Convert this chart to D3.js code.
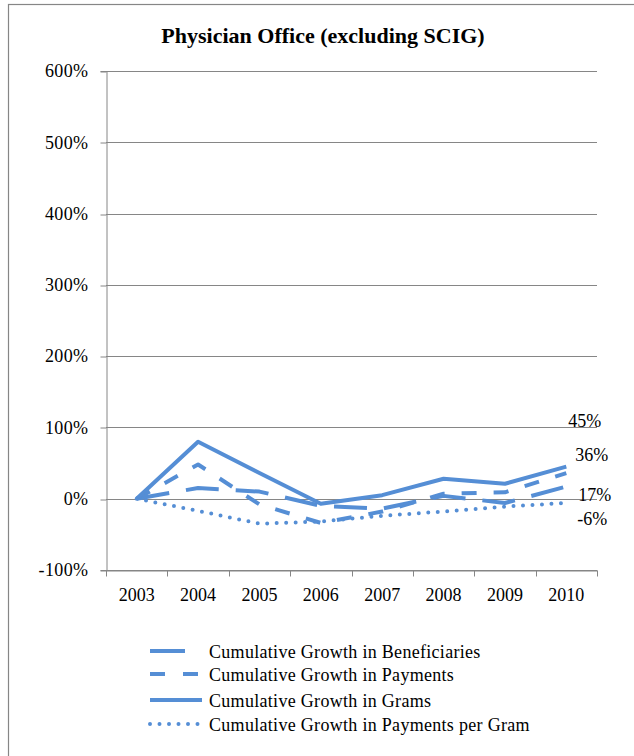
<!DOCTYPE html>
<html>
<head>
<meta charset="utf-8">
<script src="https://cdn.jsdelivr.net/npm/d3@7/dist/d3.min.js"></script>
<style>
  html, body { margin: 0; padding: 0; background: #fff; }
  svg { display: block; }
</style>
</head>
<body>
<svg id="chart" width="634" height="756"></svg>
<script>
// Years on the category axis
const years = ["2003", "2004", "2005", "2006", "2007", "2008", "2009", "2010"];

// Cumulative growth since 2003, in percent
const beneficiaries = [0, 15, 10, -10, -14, 4, -6, 17];
const payments      = [0, 48, -8, -34, -18, 7, 9, 36];
const grams         = [0, 80, 36, -7, 5, 28, 21, 45];
const paymentsPerGram = [0, -17, -35, -32, -24, -18, -11, -6];

// Value-axis ticks
const yTicks = [-100, 0, 100, 200, 300, 400, 500, 600];

const seriesNames = [
  "Cumulative Growth in Beneficiaries",
  "Cumulative Growth in Payments",
  "Cumulative Growth in Grams",
  "Cumulative Growth in Payments per Gram"
];

const FONT = "'Liberation Serif', 'Times New Roman', serif";
const blue = "#558ed5";
const gridGray = "#868686";

const series = [
  { name: seriesNames[0], values: beneficiaries, dash: "33,17", cap: "butt",
    label: { dx: 12, dy: 14 } },
  { name: seriesNames[1], values: payments, dash: "15,17", cap: "butt",
    label: { dx: 9, dy: -12 } },
  { name: seriesNames[2], values: grams, dash: null, cap: "butt",
    label: { dx: 2, dy: -40 } },
  { name: seriesNames[3], values: paymentsPerGram, dash: "0,9.5", cap: "round",
    label: { dx: 11, dy: 22 } }
];

const svg = d3.select("#chart");

// Chart frame
svg.append("rect")
  .attr("x", 8.5).attr("y", 4.5)
  .attr("width", 700).attr("height", 800)
  .attr("fill", "#fff")
  .attr("stroke", gridGray).attr("stroke-width", 1.2);

const plot = { left: 106, right: 597, top: 71, bottom: 570 };

const x = d3.scaleBand().domain(years).range([plot.left, plot.right]).padding(0);
const xc = d => x(d) + x.bandwidth() / 2;
const y = d3.scaleLinear().domain([-100, 600]).range([plot.bottom, plot.top]);

// Title
svg.append("text")
  .attr("x", 323).attr("y", 43)
  .attr("text-anchor", "middle")
  .style("font-family", FONT)
  .style("font-weight", "bold")
  .style("font-size", "22px")
  .text("Physician Office (excluding SCIG)");

// Horizontal gridlines
svg.append("g")
  .selectAll("line")
  .data(yTicks)
  .join("line")
  .attr("x1", plot.left).attr("x2", plot.right)
  .attr("y1", d => Math.round(y(d)) + 0.5).attr("y2", d => Math.round(y(d)) + 0.5)
  .attr("stroke", gridGray).attr("stroke-width", 1);

// Value axis
const yAxis = d3.axisLeft(y)
  .tickValues(yTicks)
  .tickFormat(d => d + "%")
  .tickSize(6)
  .tickPadding(12);
const gy = svg.append("g")
  .attr("transform", `translate(${plot.left + 0.5},0)`)
  .call(yAxis);
gy.select(".domain").attr("stroke", gridGray);
gy.selectAll(".tick line").attr("stroke", gridGray)
  .attr("transform", d => `translate(0,${Math.round(y(d)) + 0.5 - y(d)})`);
gy.selectAll(".tick text")
  .style("font-family", FONT)
  .style("font-size", "18px")
  .style("letter-spacing", "0.4px")
  .attr("fill", "#000");

// Category axis: labels centred in bands, ticks on band boundaries
const xAxis = d3.axisBottom(x).tickSize(0).tickPadding(18);
const gx = svg.append("g")
  .attr("transform", `translate(0,${Math.round(y(-100)) + 0.5})`)
  .call(xAxis);
gx.select(".domain").attr("stroke", gridGray);
gx.selectAll(".tick text")
  .style("font-family", FONT)
  .style("font-size", "18px")
  .attr("fill", "#000");
const boundaries = years.map(d => x(d)).concat([x(years[years.length - 1]) + x.bandwidth()]);
gx.append("g")
  .selectAll("line")
  .data(boundaries)
  .join("line")
  .attr("x1", d => Math.round(d) + 0.5).attr("x2", d => Math.round(d) + 0.5)
  .attr("y1", 0).attr("y2", 6)
  .attr("stroke", gridGray);

// Series lines
const line = d3.line()
  .x((d, i) => xc(years[i]))
  .y(d => y(d));

const lines = svg.append("g");
series.forEach(s => {
  lines.append("path")
    .datum(s.values)
    .attr("d", line)
    .attr("fill", "none")
    .attr("stroke", blue)
    .attr("stroke-width", 4)
    .attr("stroke-linejoin", "round")
    .attr("stroke-linecap", s.cap)
    .attr("stroke-dasharray", s.dash);
});

// End-of-series value labels
const last = years.length - 1;
svg.append("g")
  .selectAll("text")
  .data(series)
  .join("text")
  .attr("x", s => xc(years[last]) + s.label.dx)
  .attr("y", s => y(s.values[last]) + s.label.dy)
  .style("font-family", FONT)
  .style("font-size", "18px")
  .attr("fill", "#000")
  .text(s => s.values[last] + "%");

// Legend
const legend = svg.append("g").attr("transform", "translate(150,651)");
const rowY = [0, 23, 49, 73];
const legendDash = ["35,100", "15,18", null, "0,9.5"];
series.forEach((s, i) => {
  const row = legend.append("g").attr("transform", `translate(0,${rowY[i]})`);
  row.append("line")
    .attr("x1", 0).attr("x2", 52)
    .attr("y1", 0).attr("y2", 0)
    .attr("stroke", blue)
    .attr("stroke-width", 4)
    .attr("stroke-linecap", s.cap)
    .attr("stroke-dasharray", legendDash[i]);
  row.append("text")
    .attr("x", 59).attr("y", 7)
    .style("font-family", FONT)
    .style("font-size", "18px")
    .style("letter-spacing", "0.3px")
    .attr("fill", "#000")
    .text(s.name);
});
</script>
</body>
</html>
